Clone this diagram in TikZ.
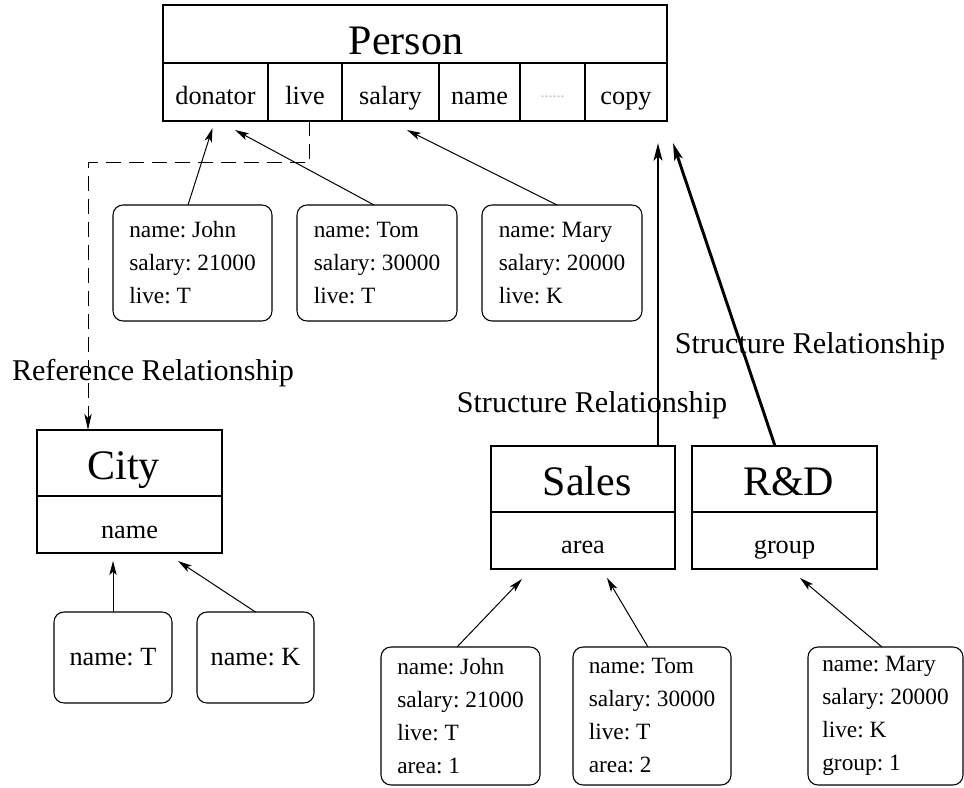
\documentclass[tikz,border=0pt]{standalone}
\usepackage{fontspec}
\setmainfont{Liberation Serif}
\usetikzlibrary{arrows.meta,calc}
\newlength\px \setlength\px{0.75pt}
\newcommand\fTitle{\fontsize{31.5}{36}\selectfont}
\newcommand\fCell{\fontsize{19.7}{22}\selectfont}
\newcommand\fBody{\frenchspacing\fontsize{17.5}{24.75}\selectfont}
\newcommand\fLabel{\fontsize{22.6}{26}\selectfont}

\begin{document}
\begin{tikzpicture}[x=0.75pt,y=-0.75pt,
  every node/.style={inner sep=0pt, outer sep=0pt},
  cellbox/.style={draw, line width=0.8pt, anchor=north west, inner sep=0pt, text depth=0pt},
  titlebox/.style={cellbox, font=\fTitle, text height=33\px},
  attrbox/.style={cellbox, font=\fCell, text height=26\px},
  inst/.style={draw, line width=0.8pt, rounded corners=7.5pt, anchor=north west,
    align=left, font=\fBody},
  valbox/.style={draw, line width=0.8pt, rounded corners=7.5pt, anchor=north west,
    font=\frenchspacing\fCell},
  relabel/.style={font=\fLabel, anchor=base},
  thinarrow/.style={line width=0.75pt, -{Stealth[length=10.5pt,width=5.5pt,inset=2.5pt]}},
  dasharrow/.style={line width=0.75pt, dash pattern=on 11.25pt off 6pt,
    -{Stealth[length=12pt,width=5.5pt,inset=3pt]}},
  thickarrow/.style={line width=2.2pt, -{Stealth[length=13pt,width=6.5pt,inset=3pt]}},
]
\useasboundingbox (0,0) rectangle (964,788);

% Person class with its attribute row
\node[titlebox, minimum width=504\px, minimum height=58\px, text height=42\px] (person) at (163,5) {\hspace*{-18\px}Person};
\node[attrbox, minimum width=105\px, minimum height=58\px] (donator) at (163,63) {donator};
\node[attrbox, minimum width=74\px,  minimum height=58\px] (live)    at (268,63) {live};
\node[attrbox, minimum width=97\px,  minimum height=58\px] (salary)  at (342,63) {salary};
\node[attrbox, minimum width=81\px,  minimum height=58\px] (pname)   at (439,63) {name};
\node[attrbox, minimum width=65\px,  minimum height=58\px, font=\fontsize{12}{12}\selectfont] (more) at (520,63) {\raisebox{7\px}{\textcolor{black!25}{......}}};
\node[attrbox, minimum width=82\px,  minimum height=58\px] (copy)    at (585,63) {copy};

% Person instances
\node[inst, minimum width=159\px, minimum height=116\px] (john) at (113,205) {name: John\\salary: 21000\\live: T};
\node[inst, minimum width=160\px, minimum height=116\px] (tom)  at (297,205) {name: Tom\\salary: 30000\\live: T};
\node[inst, minimum width=160\px, minimum height=116\px] (mary) at (482,205) {name: Mary\\salary: 20000\\live: K};

% City class and instances
\node[titlebox, minimum width=185\px, minimum height=66\px, text height=32\px] (cityt) at (37,430) {\hspace*{-12\px}City};
\node[attrbox,  minimum width=185\px, minimum height=57\px, text height=27\px] (citya) at (37,496) {name};
\node[valbox, minimum width=118\px, minimum height=91\px] (tbox) at (54,612)  {name: T};
\node[valbox, minimum width=117\px, minimum height=91\px] (kbox) at (197,612) {name: K};

% Sales and R&D classes
\node[titlebox, minimum width=184\px, minimum height=66\px, text height=32\px] (salest) at (491,446) {\hspace*{8\px}Sales};
\node[attrbox,  minimum width=184\px, minimum height=57\px, text height=25\px] (salesa) at (491,512) {area};
\node[titlebox, minimum width=185\px, minimum height=66\px, text height=32\px] (rdt) at (692,446) {\hspace*{8\px}R\&D};
\node[attrbox,  minimum width=185\px, minimum height=57\px, text height=25\px] (rda) at (692,512) {group};

% Sales and R&D instances
\node[inst, minimum width=159\px, minimum height=138\px] (john2) at (381,647) {name: John\\salary: 21000\\live: T\\area: 1};
\node[inst, minimum width=158\px, minimum height=138\px] (tom2)  at (573,647) {name: Tom\\salary: 30000\\live: T\\area: 2};
\node[inst, minimum width=155\px, minimum height=138\px] (mary2) at (808,647) {name: Mary\\salary: 20000\\live: K\\group: 1};

% Relationship labels
\node[relabel] (reflbl)  at (153,380) {Reference Relationship};
\node[relabel] (strlbl1) at (810,353) {Structure Relationship};
\node[relabel] (strlbl2) at (592,412) {Structure Relationship};

% Instance-of connectors
\draw[thinarrow] ($(john.north)+(-4.5,0)$) -- ($(donator.south)+(-3,7)$);
\draw[thinarrow] ($(tom.north)+(-3,0)$)    -- ($(donator.south)+(19.5,9)$);
\draw[thinarrow] ($(mary.north)+(-5,0)$)   -- ($(salary.south)+(16.5,9)$);
\draw[thinarrow] (tbox.north) -- ($(citya.south)+(-16.5,8)$);
\draw[thinarrow] (kbox.north) -- ($(citya.south)+(48.5,8)$);
\draw[thinarrow] ($(john2.north)+(-3.5,0)$) -- ($(salesa.south)+(-61,10)$);
\draw[thinarrow] ($(tom2.north)+(-4,0)$)    -- ($(salesa.south)+(24,9)$);
\draw[thinarrow] ($(mary2.north)+(-3.5,0)$) -- ($(rda.south)+(15.5,9)$);

% Reference relationship: live -> City
\draw[dasharrow] ($(live.south)+(4,0)$) -- ++(0,42) -| ($(cityt.north)+(-41.5,0)$);

% Structure relationships: Sales, R&D -> Person
\draw[thickarrow] ($(salest.north)+(75,0)$) -- ($(copy.south)+(32,22)$);
\draw[thickarrow] ($(rdt.north)+(-9.5,0)$)  -- ($(copy.south)+(47,22)$);
\end{tikzpicture}
\end{document}
